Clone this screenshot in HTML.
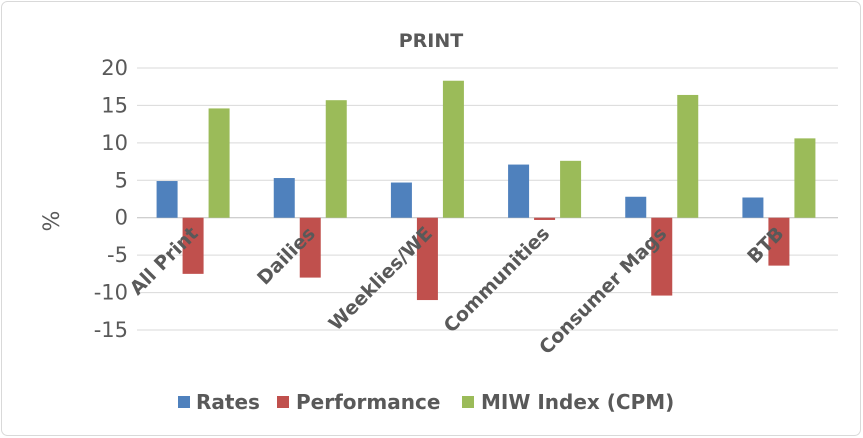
<!DOCTYPE html>
<html><head><meta charset="utf-8"><style>
html,body{margin:0;padding:0;background:#fff;}
svg{display:block;font-family:"DejaVu Sans","Liberation Sans",sans-serif;}
</style></head><body>
<svg id="chart" width="863" height="438">
<rect x="1.5" y="1.5" width="859" height="434" rx="6" fill="#fff" stroke="#d9d9d9"/>
<text x="431" y="47" text-anchor="middle" font-size="19" font-weight="bold" fill="#595959">PRINT</text>
<text transform="translate(59,221) rotate(-90)" text-anchor="middle" font-size="22" fill="#595959">%</text>
<g id="grid"></g><g id="bars"></g><g id="labels"></g>
<g>
<g><rect x="178" y="396" width="12" height="12" fill="#4f81bd"/><text x="196" y="409" font-size="20" font-weight="bold" fill="#595959">Rates</text></g>
<g><rect x="277" y="396" width="12" height="12" fill="#c0504d"/><text x="296" y="409" font-size="20" font-weight="bold" fill="#595959">Performance</text></g>
<g><rect x="462" y="396" width="12" height="12" fill="#9bbb59"/><text x="481" y="409" font-size="20" font-weight="bold" fill="#595959">MIW Index (CPM)</text></g>
</g>
</svg>
<script>
const categories=["All Print","Dailies","Weeklies/WE","Communities","Consumer Mags","BTB"];
const rates=[4.9,5.3,4.7,7.1,2.8,2.7];
const performance=[-7.5,-8,-11,-0.3,-10.4,-6.4];
const miw=[14.6,15.7,18.3,7.6,16.4,10.6];
const ticks=[20,15,10,5,0,-5,-10,-15];
const NS="http://www.w3.org/2000/svg";
const x0=134.5,x1=837.5,yTop=68,yBot=330,vMax=20,vMin=-15;
const y=v=>yTop+(vMax-v)*(yBot-yTop)/(vMax-vMin);
const bw=(x1-x0)/categories.length;
function mk(t,a,p){const e=document.createElementNS(NS,t);for(const k in a)e.setAttribute(k,a[k]);p.appendChild(e);return e;}
const grid=document.getElementById('grid'),bars=document.getElementById('bars'),labels=document.getElementById('labels');
ticks.forEach(t=>{
 const l=mk('line',{x1:137,x2:838,y1:y(t),y2:y(t),stroke:t===0?'#bfbfbf':'#d9d9d9','stroke-width':1},grid);
 
 
 const tx=mk('text',{x:128,y:y(t)+7,'text-anchor':'end','font-size':21,fill:'#595959'},grid);
 tx.textContent=t;
 
 
});
const series=[[rates,'#4f81bd','rates'],[performance,'#c0504d','performance'],[miw,'#9bbb59','miw']];
const w=21,gap=5;
categories.forEach((c,i)=>{
 const cx=x0+bw*(i+0.5);
 series.forEach((s,j)=>{
  const v=s[0][i];const bx=cx+(j-1)*(w+gap)-w/2;
  const r=mk('rect',{x:bx,y:Math.min(y(v),y(0)),width:w,height:Math.abs(y(v)-y(0)),fill:s[1]},bars);
  
  
 });
 const t=mk('text',{transform:`translate(${cx+6},${y(0)+17}) rotate(-45)`,'text-anchor':'end','font-size':19,'font-weight':'bold',fill:'#595959'},labels);
 t.textContent=c;
 
 
});
</script>
</body></html>
